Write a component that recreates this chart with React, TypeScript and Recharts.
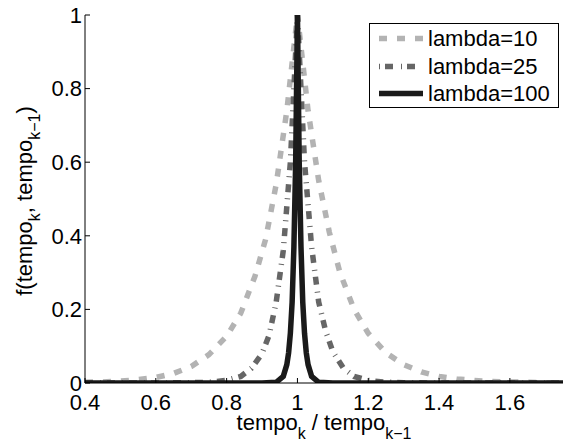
import React from 'react';
import { LineChart, Line, XAxis, YAxis, Legend } from 'recharts';

const FONT = '"Liberation Sans", Arial, Helvetica, sans-serif';

const xTicks = [0.4, 0.6, 0.8, 1, 1.2, 1.4, 1.6];
const yTicks = [0, 0.2, 0.4, 0.6, 0.8, 1];

// lambda = 10 (light gray, dashed)
const ratio10 = [0.4, 0.45, 0.5, 0.55, 0.6, 0.65, 0.7, 0.75, 0.8, 0.84, 0.88, 0.91, 0.94, 0.97, 1.0,
  1.03, 1.06, 1.09, 1.12, 1.16, 1.2, 1.25, 1.3, 1.35, 1.4, 1.45, 1.5, 1.55, 1.6, 1.65, 1.7, 1.75];
const f10 = [0.002, 0.003, 0.005, 0.009, 0.015, 0.026, 0.045, 0.077, 0.127, 0.19, 0.29, 0.39, 0.54, 0.74, 1.0,
  0.74, 0.55, 0.41, 0.3, 0.2, 0.135, 0.082, 0.05, 0.03, 0.018, 0.011, 0.007, 0.004, 0.003, 0.002, 0.001, 0.001];

// lambda = 25 (dark gray, dash-dot)
const ratio25 = [0.4, 0.6, 0.7, 0.75, 0.8, 0.84, 0.87, 0.9, 0.92, 0.94, 0.96, 0.98, 1.0,
  1.02, 1.04, 1.06, 1.08, 1.1, 1.13, 1.16, 1.2, 1.25, 1.3, 1.4, 1.75];
const f25 = [0, 0, 0.001, 0.002, 0.007, 0.018, 0.04, 0.08, 0.13, 0.22, 0.36, 0.6, 1.0,
  0.6, 0.37, 0.22, 0.14, 0.085, 0.04, 0.018, 0.007, 0.002, 0.001, 0, 0];

// lambda = 100 (black, solid)
const ratio100 = [0.4, 0.9, 0.94, 0.96, 0.97, 0.975, 0.98, 0.985, 0.99, 0.995, 1.0,
  1.005, 1.01, 1.015, 1.02, 1.025, 1.03, 1.04, 1.06, 1.1, 1.75];
const f100 = [0, 0, 0.002, 0.018, 0.05, 0.082, 0.135, 0.22, 0.37, 0.6, 1.0,
  0.6, 0.37, 0.22, 0.135, 0.082, 0.05, 0.018, 0.002, 0, 0];

const toPoints = (xs: number[], ys: number[]) => xs.map((x, i) => ({ x, y: ys[i] }));

const data10 = toPoints(ratio10, f10);
const data25 = toPoints(ratio25, f25);
const data100 = toPoints(ratio100, f100);

const fmt = (v: number) => String(Number(v.toFixed(1)));

const LIGHT = '#b3b3b3';
const DARK = '#666666';
const BLACK = '#1a1a1a';
const DASH10 = '8 10';
const DASHDOT25 = '8 7 1 6';

const legendItems = [
  { label: 'lambda=10', kind: 'dash' },
  { label: 'lambda=25', kind: 'dashdot' },
  { label: 'lambda=100', kind: 'solid' },
];

const Sample = ({ kind }: { kind: string }) => (
  <svg width={56} height={27} style={{ display: 'block' }}>
    {kind === 'dash' && (
      <line x1={9} x2={53} y1={13.5} y2={13.5} stroke={LIGHT} strokeWidth={5.5} strokeDasharray={DASH10} />
    )}
    {kind === 'dashdot' && (
      <line x1={9} x2={53} y1={13.5} y2={13.5} stroke={DARK} strokeWidth={5.5} strokeDasharray="1 5 8 8" />
    )}
    {kind === 'solid' && (
      <line x1={9} x2={53} y1={13.5} y2={13.5} stroke={BLACK} strokeWidth={5.5} />
    )}
  </svg>
);

const LegendBox = () => (
  <div
    style={{
      width: 190,
      height: 85,
      border: '1px solid #000',
      background: '#fff',
      boxSizing: 'border-box',
      fontFamily: FONT,
      fontSize: 22,
      paddingTop: 1,
    }}
  >
    {legendItems.map((item) => (
      <div key={item.label} style={{ display: 'flex', alignItems: 'center', height: 27.5 }}>
        <Sample kind={item.kind} />
        <span style={{ marginLeft: 2, lineHeight: '27px' }}>{item.label}</span>
      </div>
    ))}
  </div>
);

const XLabel = (props: any) => {
  const vb = props.viewBox || { x: 85, width: 478 };
  return (
    <text x={vb.x + vb.width / 2} y={430} textAnchor="middle" fontFamily={FONT} fontSize={22} fill="#000">
      <tspan>tempo</tspan>
      <tspan dy={9} fontSize={16}>k</tspan>
      <tspan dy={-9}> / tempo</tspan>
      <tspan dy={9} fontSize={16}>k−1</tspan>
    </text>
  );
};

const YLabel = (props: any) => {
  const vb = props.viewBox || { y: 15, height: 368 };
  const cy = vb.y + vb.height / 2 + 2;
  return (
    <text
      transform="rotate(-90)"
      x={-cy}
      y={32}
      textAnchor="middle"
      fontFamily={FONT}
      fontSize={22}
      fill="#000"
    >
      <tspan>f(tempo</tspan>
      <tspan dy={8} fontSize={16}>k</tspan>
      <tspan dy={-8}>, tempo</tspan>
      <tspan dy={8} fontSize={16}>k−1</tspan>
      <tspan dy={-8}>)</tspan>
    </text>
  );
};

const tickStyle = { fill: '#000', fontSize: 22, fontFamily: FONT };

export default function App() {
  return (
    <div style={{ position: 'absolute', left: 0, top: 0, width: 565, height: 443, background: '#fff' }}>
      <LineChart width={565} height={443} margin={{ top: 15, right: 2, bottom: 30, left: 25 }}>
        <XAxis
          dataKey="x"
          type="number"
          domain={[0.4, 1.75]}
          ticks={xTicks}
          tickFormatter={fmt}
          allowDataOverflow
          height={30}
          tick={tickStyle}
          tickSize={-5}
          tickMargin={16}
          axisLine={{ stroke: '#000', strokeWidth: 1 }}
          tickLine={{ stroke: '#000' }}
          label={<XLabel />}
        />
        <XAxis
          xAxisId="top"
          orientation="top"
          dataKey="x"
          type="number"
          domain={[0.4, 1.75]}
          ticks={xTicks}
          allowDataOverflow
          height={0}
          tick={false}
          tickSize={-5}
          axisLine={{ stroke: '#000', strokeWidth: 1 }}
          tickLine={{ stroke: '#000' }}
        />
        <YAxis
          type="number"
          domain={[0, 1]}
          ticks={yTicks}
          tickFormatter={fmt}
          allowDataOverflow
          width={60}
          tick={tickStyle}
          tickSize={-5}
          tickMargin={8}
          axisLine={{ stroke: '#000', strokeWidth: 1 }}
          tickLine={{ stroke: '#000' }}
          label={<YLabel />}
        />
        <YAxis
          yAxisId="right"
          orientation="right"
          type="number"
          domain={[0, 1]}
          ticks={yTicks}
          allowDataOverflow
          width={0}
          tick={false}
          tickSize={-5}
          axisLine={{ stroke: '#000', strokeWidth: 1 }}
          tickLine={{ stroke: '#000' }}
        />
        <Line
          data={data10}
          dataKey="y"
          type="linear"
          stroke={LIGHT}
          strokeWidth={5.5}
          strokeDasharray={DASH10}
          dot={false}
          activeDot={false}
          isAnimationActive={false}
        />
        <Line
          data={data25}
          dataKey="y"
          type="linear"
          stroke={DARK}
          strokeWidth={5.5}
          strokeDasharray={DASHDOT25}
          dot={false}
          activeDot={false}
          isAnimationActive={false}
        />
        <Line
          data={data100}
          dataKey="y"
          type="linear"
          stroke={BLACK}
          strokeWidth={5.5}
          dot={false}
          activeDot={false}
          isAnimationActive={false}
        />
        <Legend
          layout="horizontal"
          align="center"
          verticalAlign="middle"
          content={<LegendBox />}
          wrapperStyle={{ left: 369, top: 23, width: 190, height: 85 }}
        />
      </LineChart>
    </div>
  );
}
